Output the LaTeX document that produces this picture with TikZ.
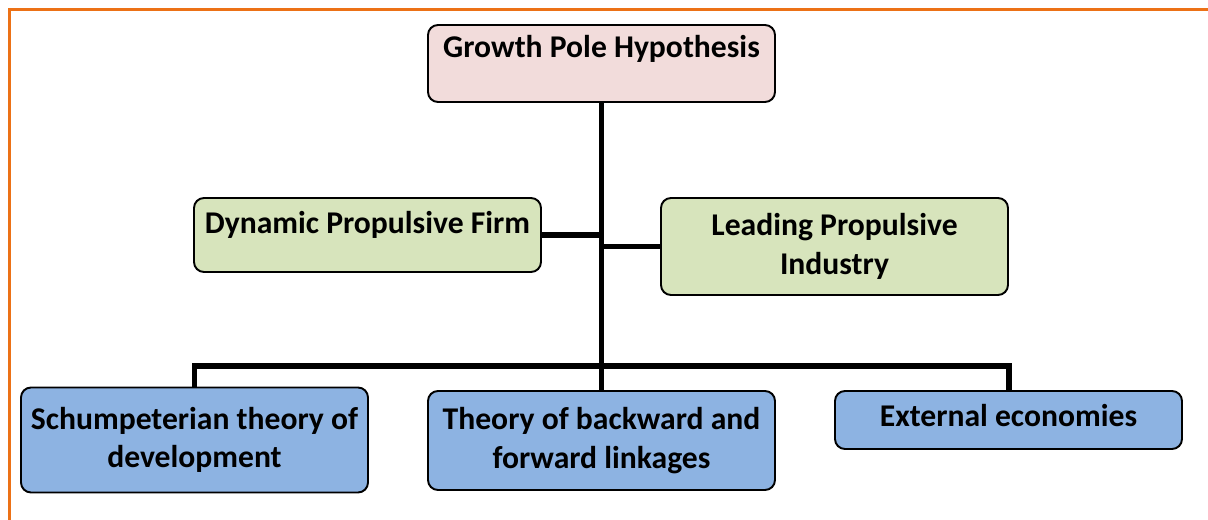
\documentclass[tikz,border=0pt]{standalone}
\usepackage{fontspec}
\setmainfont{Carlito}
\usetikzlibrary{calc}
\definecolor{framecol}{RGB}{236,113,22}
\definecolor{polepink}{RGB}{242,220,219}
\definecolor{propgreen}{RGB}{215,228,188}
\definecolor{theoryblue}{RGB}{141,179,226}

\begin{document}
\begin{tikzpicture}[
    box/.style={draw, line width=1.1pt, rounded corners=0.2cm, minimum width=6.94cm,
      inner xsep=0pt, inner ysep=0pt, align=center,
      font=\fontsize{18}{22}\selectfont\bfseries},
    link/.style={line width=3.4pt}
  ]
    \useasboundingbox (0,0) rectangle (24.16,-10.4);
    \draw[framecol, line width=1.7pt] (0.19,-10.4) |- (24.16,-0.19);

    \node [box, fill=polepink, text height=0.66cm, text depth=0.88cm] (pole) at (12.03,-1.27) {Growth Pole Hypothesis};
    \node [box, fill=propgreen, text height=0.72cm, text depth=0.76cm] (firm) at (7.35,-4.70) {Dynamic Propulsive Firm};
    \node [box, fill=propgreen, minimum height=1.94cm] (industry) at (16.69,-4.93) {Leading Propulsive\\Industry};
    \node [box, fill=theoryblue, minimum height=2.10cm] (schump) at (3.89,-8.80) {Schumpeterian theory of\\development};
    \node [box, fill=theoryblue, minimum height=1.98cm] (linkages) at (12.03,-8.81) {Theory of backward and\\forward linkages};
    \node [box, fill=theoryblue, text height=0.70cm, text depth=0.46cm] (external) at (20.17,-8.40) {External economies};

    \coordinate (hub) at (12.03,-7.32);

    \draw[link] (pole.south) -- (hub);
    \draw[link] (firm.east) -- (firm.east -| pole.south);
    \draw[link] (industry.west) -- (industry.west -| pole.south);
    \draw[link] (schump.north) |- (hub) -| (external.north);
    \draw[link] (linkages.north) -- (hub);
\end{tikzpicture}
\end{document}
